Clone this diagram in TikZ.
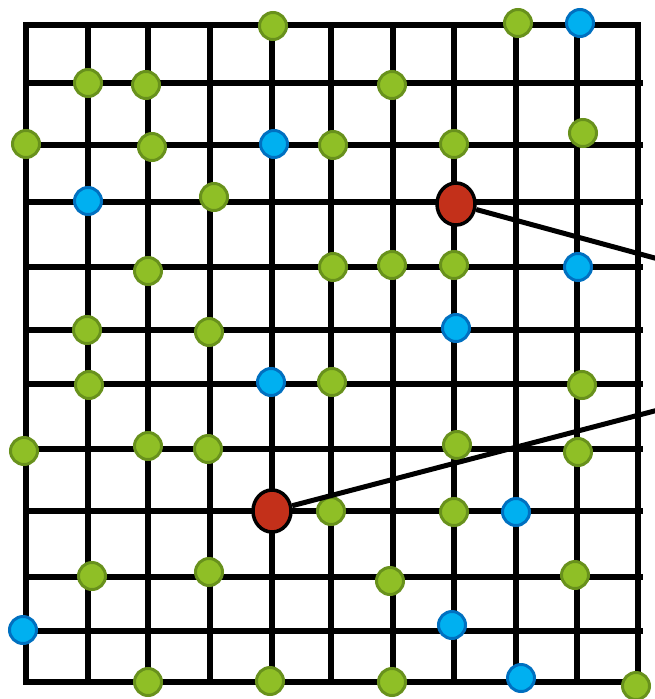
\documentclass[tikz,border=0pt]{standalone}
\usetikzlibrary{shapes.geometric}
\definecolor{gfill}{RGB}{143,191,38}
\definecolor{gline}{RGB}{104,145,28}
\definecolor{bfill}{RGB}{0,176,240}
\definecolor{bline}{RGB}{0,112,192}
\definecolor{rfill}{RGB}{195,48,26}
\tikzset{
  gridline/.style={line width=5.5pt, black},
  gdot/.style={circle, fill=gfill, draw=gline, line width=3pt, minimum size=27pt, inner sep=0pt},
  bdot/.style={circle, fill=bfill, draw=bline, line width=3pt, minimum size=27pt, inner sep=0pt},
  rdot/.style={ellipse, fill=rfill, draw=black, line width=3.5pt, minimum width=38pt, minimum height=42pt, inner sep=0pt},
  link/.style={line width=5pt, black}
}
\begin{document}
\begin{tikzpicture}[x=1pt,y=-1pt]
\useasboundingbox (0,0) rectangle (654,699);
% frame
\draw[gridline] (26,25) rectangle (638,682);
% interior verticals
\foreach \x in {88,148,210,272,331,393,454,516,577} {
  \draw[gridline] (\x,25) -- (\x,682);
}
% interior horizontals
\foreach \y in {83,145,202,267,330,384,449,511,577,631} {
  \draw[gridline] (23,\y) -- (643,\y);
}
% green dots
\foreach \p [count=\i] in {(273,26),(88,83),(146,85),(392,85),(518,23),
  (26,144),(152,147),(333,145),(454,144),(583,133),
  (214,197),
  (148,271),(333,267),(392,265),(454,265),
  (87,330),(209,332),
  (89,385),(332,382),(582,385),
  (24,451),(148,446),(208,449),(457,445),(578,452),
  (331,511),(454,512),
  (92,576),(209,572),(390,581),(575,575),
  (148,682),(270,681),(392,682),(636,686)} {
  \node[gdot] (g\i) at \p {};
}
% blue dots
\foreach \p [count=\i] in {(580,23),(274,144),(88,201),(578,267),(456,328),
  (271,382),(516,512),(23,630),(452,625),(521,678)} {
  \node[bdot] (b\i) at \p {};
}
% red nodes
\node[rdot] (r1) at (456,204) {};
\node[rdot] (r2) at (272,511) {};
\coordinate (e1) at (662,260);
\coordinate (e2) at (662,409);
\draw[link] (r1) -- (e1);
\draw[link] (r2) -- (e2);
\end{tikzpicture}
\end{document}
